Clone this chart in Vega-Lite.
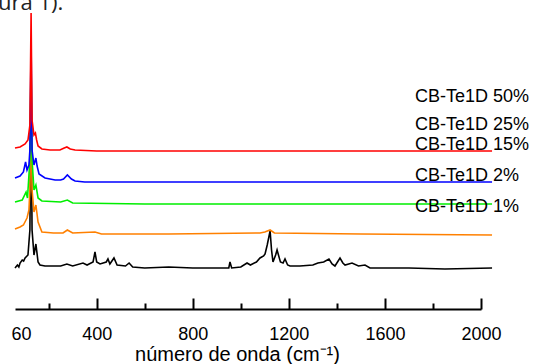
{
  "$schema": "https://vega.github.io/schema/vega-lite/v6.json",
  "autosize": {"type": "none"},
  "width": 466,
  "height": 309,
  "padding": {"left": 15, "top": 0, "right": 54, "bottom": 55},
  "background": "white",
  "config": {"view": {"stroke": null}, "font": "Liberation Sans"},
  "title": {"text": "ura 1).", "anchor": "start", "frame": "group", "font": "Open Sans", "fontSize": 22, "fontWeight": "normal", "color": "#222222", "baseline": "alphabetic", "offset": -32, "dx": -17},
  "datasets": {
    "spectra": [
      {"s": "1%", "w": 60, "v": 41}, {"s": "1%", "w": 70, "v": 44}, {"s": "1%", "w": 76, "v": 42}, {"s": "1%", "w": 81, "v": 46}, {"s": "1%", "w": 90, "v": 49}, {"s": "1%", "w": 96, "v": 48}, {"s": "1%", "w": 102, "v": 51}, {"s": "1%", "w": 114, "v": 54}, {"s": "1%", "w": 122, "v": 79}, {"s": "1%", "w": 127, "v": 209}, {"s": "1%", "w": 131, "v": 79}, {"s": "1%", "w": 139, "v": 54}, {"s": "1%", "w": 147, "v": 65}, {"s": "1%", "w": 156, "v": 47}, {"s": "1%", "w": 164, "v": 44}, {"s": "1%", "w": 185, "v": 43}, {"s": "1%", "w": 250, "v": 43}, {"s": "1%", "w": 276, "v": 45}, {"s": "1%", "w": 300, "v": 43}, {"s": "1%", "w": 343, "v": 46}, {"s": "1%", "w": 360, "v": 44}, {"s": "1%", "w": 385, "v": 47}, {"s": "1%", "w": 393, "v": 57}, {"s": "1%", "w": 400, "v": 47}, {"s": "1%", "w": 414, "v": 45}, {"s": "1%", "w": 440, "v": 47}, {"s": "1%", "w": 447, "v": 50}, {"s": "1%", "w": 455, "v": 45}, {"s": "1%", "w": 472, "v": 51}, {"s": "1%", "w": 485, "v": 44}, {"s": "1%", "w": 520, "v": 43}, {"s": "1%", "w": 535, "v": 46}, {"s": "1%", "w": 550, "v": 42}, {"s": "1%", "w": 600, "v": 41}, {"s": "1%", "w": 700, "v": 42}, {"s": "1%", "w": 800, "v": 41}, {"s": "1%", "w": 950, "v": 41}, {"s": "1%", "w": 955, "v": 47}, {"s": "1%", "w": 962, "v": 41}, {"s": "1%", "w": 1000, "v": 42}, {"s": "1%", "w": 1026, "v": 46}, {"s": "1%", "w": 1040, "v": 44}, {"s": "1%", "w": 1065, "v": 47}, {"s": "1%", "w": 1080, "v": 51}, {"s": "1%", "w": 1095, "v": 53}, {"s": "1%", "w": 1101, "v": 55}, {"s": "1%", "w": 1110, "v": 64}, {"s": "1%", "w": 1122, "v": 78}, {"s": "1%", "w": 1128, "v": 59}, {"s": "1%", "w": 1134, "v": 47}, {"s": "1%", "w": 1145, "v": 54}, {"s": "1%", "w": 1151, "v": 59}, {"s": "1%", "w": 1165, "v": 47}, {"s": "1%", "w": 1176, "v": 46}, {"s": "1%", "w": 1184, "v": 50}, {"s": "1%", "w": 1195, "v": 44}, {"s": "1%", "w": 1205, "v": 43}, {"s": "1%", "w": 1246, "v": 43}, {"s": "1%", "w": 1300, "v": 44}, {"s": "1%", "w": 1321, "v": 46}, {"s": "1%", "w": 1345, "v": 47}, {"s": "1%", "w": 1367, "v": 50}, {"s": "1%", "w": 1380, "v": 45}, {"s": "1%", "w": 1392, "v": 43}, {"s": "1%", "w": 1413, "v": 51}, {"s": "1%", "w": 1425, "v": 46}, {"s": "1%", "w": 1434, "v": 44}, {"s": "1%", "w": 1463, "v": 46}, {"s": "1%", "w": 1490, "v": 43}, {"s": "1%", "w": 1517, "v": 44}, {"s": "1%", "w": 1538, "v": 41}, {"s": "1%", "w": 1700, "v": 41}, {"s": "1%", "w": 1850, "v": 40}, {"s": "1%", "w": 2046, "v": 41},

      {"s": "2%", "w": 60, "v": 80}, {"s": "2%", "w": 81, "v": 82}, {"s": "2%", "w": 95, "v": 84}, {"s": "2%", "w": 110, "v": 91}, {"s": "2%", "w": 118, "v": 99}, {"s": "2%", "w": 122, "v": 119}, {"s": "2%", "w": 127, "v": 219}, {"s": "2%", "w": 131, "v": 119}, {"s": "2%", "w": 139, "v": 97}, {"s": "2%", "w": 147, "v": 104}, {"s": "2%", "w": 156, "v": 87}, {"s": "2%", "w": 172, "v": 77}, {"s": "2%", "w": 220, "v": 76}, {"s": "2%", "w": 260, "v": 76}, {"s": "2%", "w": 278, "v": 79}, {"s": "2%", "w": 300, "v": 76}, {"s": "2%", "w": 393, "v": 77}, {"s": "2%", "w": 420, "v": 75}, {"s": "2%", "w": 700, "v": 75}, {"s": "2%", "w": 1080, "v": 76}, {"s": "2%", "w": 1100, "v": 77}, {"s": "2%", "w": 1122, "v": 79}, {"s": "2%", "w": 1140, "v": 76}, {"s": "2%", "w": 1500, "v": 75}, {"s": "2%", "w": 2046, "v": 74},

      {"s": "15%", "w": 60, "v": 107}, {"s": "15%", "w": 90, "v": 109}, {"s": "15%", "w": 106, "v": 117}, {"s": "15%", "w": 112, "v": 111}, {"s": "15%", "w": 122, "v": 149}, {"s": "15%", "w": 127, "v": 247}, {"s": "15%", "w": 131, "v": 149}, {"s": "15%", "w": 139, "v": 119}, {"s": "15%", "w": 147, "v": 124}, {"s": "15%", "w": 156, "v": 111}, {"s": "15%", "w": 172, "v": 108}, {"s": "15%", "w": 250, "v": 107}, {"s": "15%", "w": 278, "v": 109}, {"s": "15%", "w": 300, "v": 106}, {"s": "15%", "w": 600, "v": 105}, {"s": "15%", "w": 2046, "v": 105},

      {"s": "25%", "w": 60, "v": 131}, {"s": "25%", "w": 81, "v": 133}, {"s": "25%", "w": 95, "v": 137}, {"s": "25%", "w": 104, "v": 147}, {"s": "25%", "w": 110, "v": 139}, {"s": "25%", "w": 118, "v": 144}, {"s": "25%", "w": 122, "v": 159}, {"s": "25%", "w": 127, "v": 265}, {"s": "25%", "w": 131, "v": 159}, {"s": "25%", "w": 139, "v": 144}, {"s": "25%", "w": 147, "v": 151}, {"s": "25%", "w": 152, "v": 143}, {"s": "25%", "w": 160, "v": 135}, {"s": "25%", "w": 185, "v": 131}, {"s": "25%", "w": 227, "v": 129}, {"s": "25%", "w": 250, "v": 129}, {"s": "25%", "w": 262, "v": 130}, {"s": "25%", "w": 278, "v": 134}, {"s": "25%", "w": 295, "v": 130}, {"s": "25%", "w": 310, "v": 128}, {"s": "25%", "w": 350, "v": 127}, {"s": "25%", "w": 2046, "v": 127},

      {"s": "50%", "w": 60, "v": 161}, {"s": "50%", "w": 81, "v": 162}, {"s": "50%", "w": 102, "v": 165}, {"s": "50%", "w": 114, "v": 169}, {"s": "50%", "w": 122, "v": 184}, {"s": "50%", "w": 127, "v": 296}, {"s": "50%", "w": 131, "v": 189}, {"s": "50%", "w": 139, "v": 174}, {"s": "50%", "w": 145, "v": 176}, {"s": "50%", "w": 150, "v": 169}, {"s": "50%", "w": 156, "v": 163}, {"s": "50%", "w": 172, "v": 160}, {"s": "50%", "w": 206, "v": 159}, {"s": "50%", "w": 247, "v": 159}, {"s": "50%", "w": 265, "v": 161}, {"s": "50%", "w": 276, "v": 162}, {"s": "50%", "w": 290, "v": 160}, {"s": "50%", "w": 310, "v": 159}, {"s": "50%", "w": 400, "v": 158}, {"s": "50%", "w": 2046, "v": 158}
    ],
    "labels": [
      {"w": 1725, "v": 212, "t": "CB-Te1D 50%"},
      {"w": 1725, "v": 184, "t": "CB-Te1D 25%"},
      {"w": 1725, "v": 164, "t": "CB-Te1D 15%"},
      {"w": 1725, "v": 133, "t": "CB-Te1D 2%"},
      {"w": 1725, "v": 102, "t": "CB-Te1D 1%"}
    ]
  },
  "layer": [
    {
      "data": {"name": "spectra"},
      "mark": {"type": "line", "strokeWidth": 1.6, "clip": false},
      "encoding": {
        "x": {
          "field": "w", "type": "quantitative",
          "scale": {"domain": [60, 2000], "nice": false, "zero": false},
          "axis": {
            "values": [60, 200, 400, 600, 800, 1000, 1200, 1400, 1600, 1800, 2000],
            "labelExpr": "datum.value == 60 || datum.value % 400 == 0 ? datum.label : ''",
            "format": "d",
            "grid": false,
            "domainColor": "#000000", "domainWidth": 2,
            "tickColor": "#000000", "tickWidth": 2,
            "tickOpacity": {"condition": {"test": "datum.value == 60", "value": 0}, "value": 1},
            "tickSize": {"condition": {"test": "datum.value == 60 || datum.value % 400 == 0", "value": -11}, "value": -6},
            "labelFont": "Liberation Sans", "labelFontSize": 18, "labelColor": "#000000",
            "labelPadding": 27, "labelFlush": false,
            "labelOffset": {"condition": {"test": "datum.value == 60", "value": 6}, "value": 0},
            "title": "número de onda (cm⁻¹)",
            "titleFont": "Liberation Sans", "titleFontSize": 20, "titleFontWeight": "normal", "titleColor": "#000000",
            "titlePadding": 1, "titleX": 222
          }
        },
        "y": {"field": "v", "type": "quantitative", "scale": {"domain": [0, 309], "nice": false, "zero": false}, "axis": null},
        "color": {
          "field": "s", "type": "nominal", "legend": null,
          "scale": {"domain": ["1%", "2%", "15%", "25%", "50%"], "range": ["#000000", "#FF8000", "#00EE00", "#0000FF", "#FF0000"]}
        }
      }
    },
    {
      "data": {"name": "labels"},
      "mark": {"type": "text", "align": "left", "baseline": "middle", "font": "Liberation Sans", "fontSize": 18, "color": "#000000"},
      "encoding": {
        "x": {"field": "w", "type": "quantitative"},
        "y": {"field": "v", "type": "quantitative"},
        "text": {"field": "t"}
      }
    }
  ]
}
